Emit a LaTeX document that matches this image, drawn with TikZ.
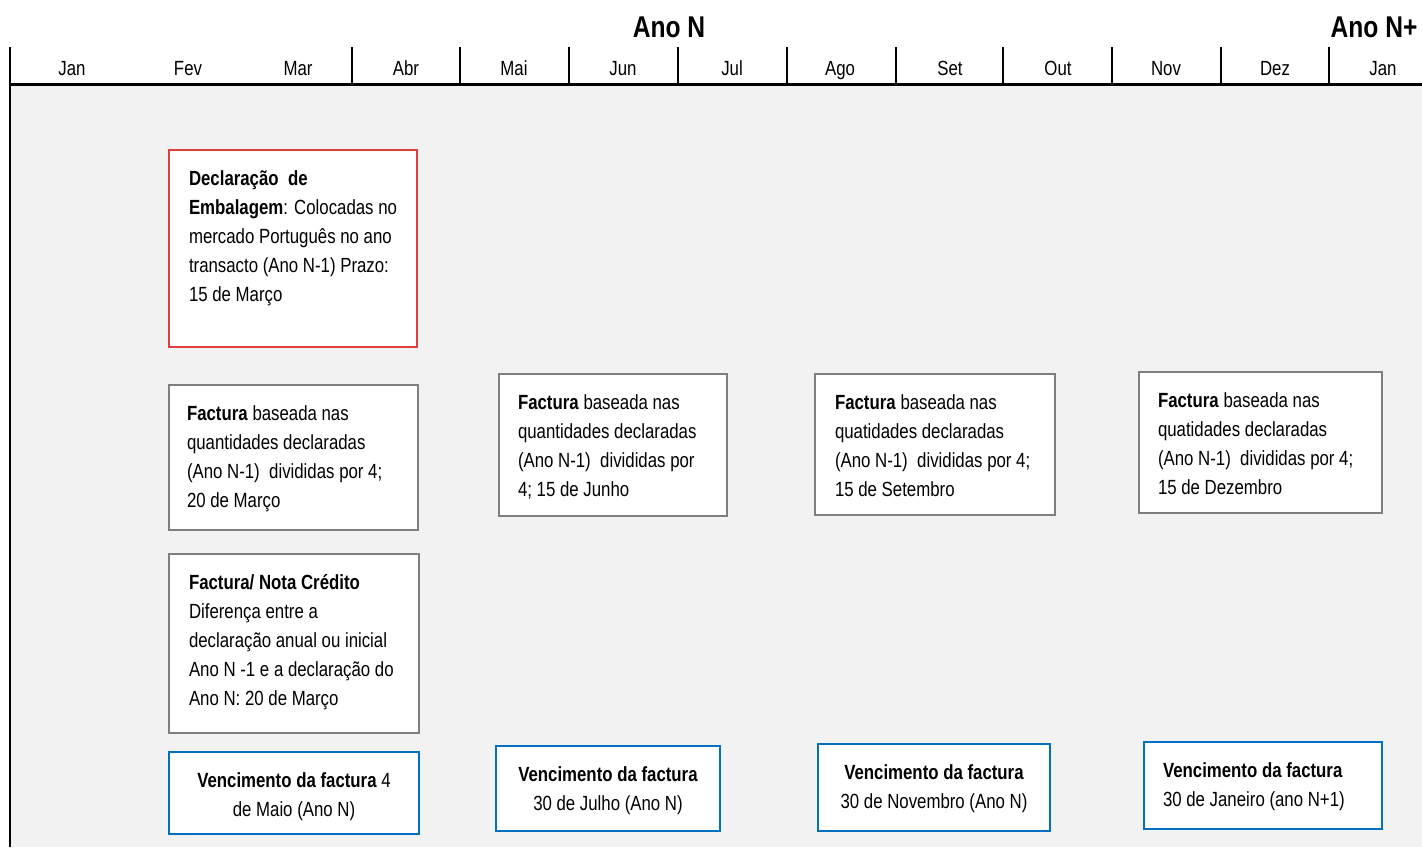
\documentclass[tikz,border=0pt]{standalone}
\usepackage{fontspec}
\setmainfont{Liberation Sans}[FakeStretch=0.82]
\definecolor{fundo}{HTML}{F2F2F2}
\definecolor{vermelho}{HTML}{E0403A}
\definecolor{cinza}{HTML}{7F7F7F}
\definecolor{azul}{HTML}{0070C0}
\tikzset{
  caixa/.style={draw, fill=white, line width=1.8pt, outer sep=0pt, anchor=north west,
    align=flush left, inner ysep=0pt, text height=35pt, font=\fontsize{20.5}{29}\selectfont},
  declcaixa/.style={caixa, draw=vermelho},
  factcaixa/.style={caixa, draw=cinza},
  venccaixa/.style={caixa, draw=azul},
  mes/.style={anchor=base, font=\fontsize{20.5}{24}\selectfont},
  ano/.style={font=\bfseries\fontsize{30}{34}\selectfont}
}
\begin{document}
\begin{tikzpicture}[x=1pt, y=-1pt]
			\useasboundingbox (0,0) rectangle (1422,847);
			\fill[fundo] (10,84) rectangle (1422,847);
			
			% Cabecalho com meses
			\draw[line width=2pt] (10,47) -- (10,847);
			\draw[line width=3pt] (10,84) -- (1422,84);
			\foreach \x in {352,460,569,678,787,896,1003,1112,1221,1329} \draw[line width=2.5pt] (\x,47) -- (\x,84);
			\foreach \x/\m [count=\i] in {72/Jan,188/Fev,298/Mar,406/Abr,514/Mai,623/Jun,732/Jul,840/Ago,950/Set,1058/Out,1166/Nov,1275/Dez,1383/Jan}
				\node[mes] (mes\i) at (\x,75) {\m};
			\node[ano, anchor=base] (anoN) at (669,37) {Ano N};
			\node[ano, anchor=base east] (anoN1) at (1421,37) {Ano N+};
			
			% Declaracao
			\node[declcaixa, text width=208pt, inner xsep=20pt, text depth=162pt] (decl) at (169,150)
				{\textbf{Declaração\ \ de}\\ \textbf{Embalagem}: Colocadas no\\ mercado Português no ano\\ transacto (Ano N-1) Prazo:\\ 15 de Março};
			
			% Facturas trimestrais
			\node[factcaixa, text width=213pt, inner xsep=18pt, text depth=110pt] (fact1) at (169,385)
				{\textbf{Factura} baseada nas\\ quantidades declaradas\\ (Ano N-1)\ \ divididas por 4;\\ 20 de Março};
			\node[factcaixa, text width=190pt, inner xsep=19pt, text depth=107pt] (fact2) at (499,374)
				{\textbf{Factura} baseada nas\\ quantidades declaradas\\ (Ano N-1)\ \ divididas por\\ 4; 15 de Junho};
			\node[factcaixa, text width=200pt, inner xsep=20pt, text depth=106pt] (fact3) at (815,374)
				{\textbf{Factura} baseada nas\\ quatidades declaradas\\ (Ano N-1)\ \ divididas por 4;\\ 15 de Setembro};
			\node[factcaixa, text width=205pt, inner xsep=19pt, text depth=106pt] (fact4) at (1139,372)
				{\textbf{Factura} baseada nas\\ quatidades declaradas\\ (Ano N-1)\ \ divididas por 4;\\ 15 de Dezembro};
			
			% Nota de credito
			\node[factcaixa, text width=210pt, inner xsep=20pt, text depth=144pt] (nota) at (169,554)
				{\textbf{Factura/ Nota Crédito}\\ Diferença entre a\\ declaração anual ou inicial\\ Ano N -1 e a declaração do\\ Ano N: 20 de Março};
			
			% Vencimentos
			\node[venccaixa, align=flush center, text width=230pt, inner xsep=10pt, text depth=47pt] (venc1) at (169,752)
				{\textbf{Vencimento da factura} 4\\ de Maio (Ano N)};
			\node[venccaixa, align=flush center, text width=204pt, inner xsep=10pt, text depth=50pt] (venc2) at (496,746)
				{\textbf{Vencimento da factura}\\ 30 de Julho (Ano N)};
			\node[venccaixa, align=flush center, text width=212pt, inner xsep=10pt, text depth=52pt] (venc3) at (818,744)
				{\textbf{Vencimento da factura}\\ 30 de Novembro (Ano N)};
			\node[venccaixa, text width=200pt, inner xsep=19pt, text depth=52pt] (venc4) at (1144,742)
				{\textbf{Vencimento da factura}\\ 30 de Janeiro (ano N+1)};
\end{tikzpicture}
\end{document}
